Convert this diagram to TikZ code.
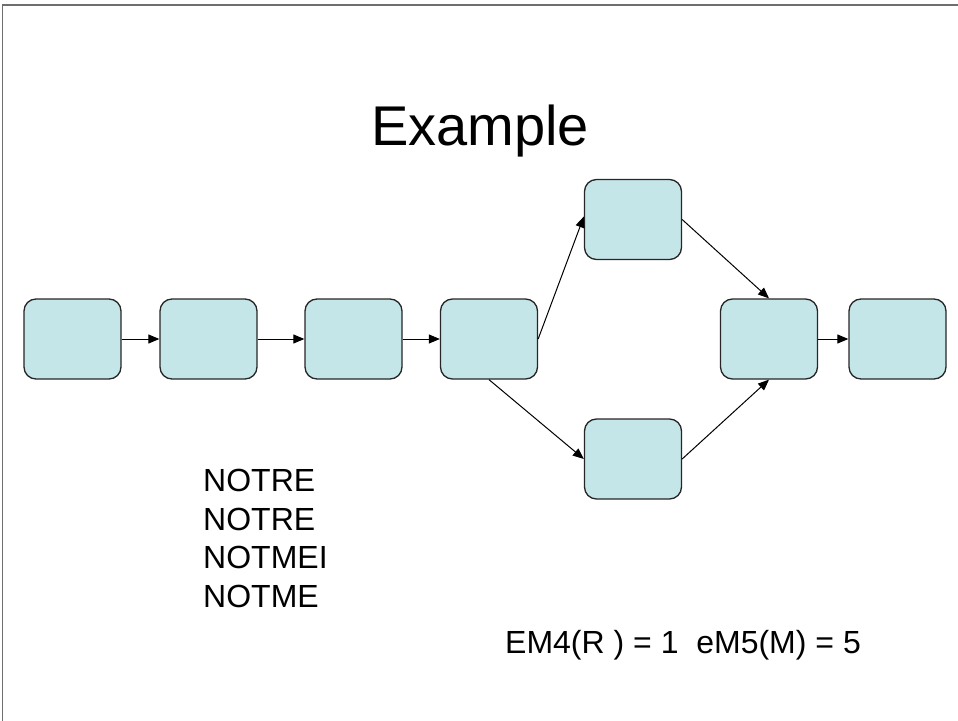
\documentclass[tikz,border=0pt]{standalone}
\usepackage{fontspec}
\setmainfont{Liberation Sans}
\usetikzlibrary{arrows.meta}
\definecolor{boxfill}{RGB}{197,230,232}
\definecolor{frame}{RGB}{110,110,110}
\tikzset{
  stage/.style={draw=black!85, line width=1.3bp, fill=boxfill, rounded corners=12bp,
    minimum width=97bp, minimum height=80bp, inner sep=0pt},
  link/.style={draw=black, line width=1bp, -{Triangle[length=11bp,width=9bp]}},
  body/.style={font=\fontsize{32bp}{38.4bp}\selectfont, inner sep=0pt}
}
\begin{document}
\begin{tikzpicture}[x=1bp,y=-1bp]
  \useasboundingbox (0,0) rectangle (958,721);
  % slide frame (top and left edges)
  \draw[frame, line width=1.6bp] (2.5,721) -- (2.5,4.8) -- (958,4.8);
  % title
  \node[font=\fontsize{56bp}{67bp}\selectfont, anchor=base, inner sep=0pt] (title) at (480,146) {Example};
  % stages
  \node[stage] (b1) at (72.5,339) {};
  \node[stage] (b2) at (208.5,339) {};
  \node[stage] (b3) at (353.5,339) {};
  \node[stage] (b4) at (489,339) {};
  \node[stage] (up) at (633,219.5) {};
  \node[stage] (dn) at (633,459) {};
  \node[stage] (m) at (769,339) {};
  \node[stage] (last) at (897.5,339) {};
  % connectors
  \draw[link] (b1) -- (b2);
  \draw[link] (b2) -- (b3);
  \draw[link] (b3) -- (b4);
  \draw[link] (b4.east) -- ([yshift=3]up.west);
  \draw[link] (b4.south) -- (dn.west);
  \draw[link] (up.east) -- (m.north);
  \draw[link] (dn.east) -- (m.south);
  \draw[link] (m) -- (last);
  % notes (base anchor sits on the last line)
  \node[body, anchor=base west, align=left] (notes) at (203,607)
    {NOTRE\\NOTRE\\NOTMEI\\NOTME};
  \node[body, anchor=base west] (counts) at (505,653) {EM4(R ) = 1\ \ eM5(M) = 5};
\end{tikzpicture}
\end{document}
